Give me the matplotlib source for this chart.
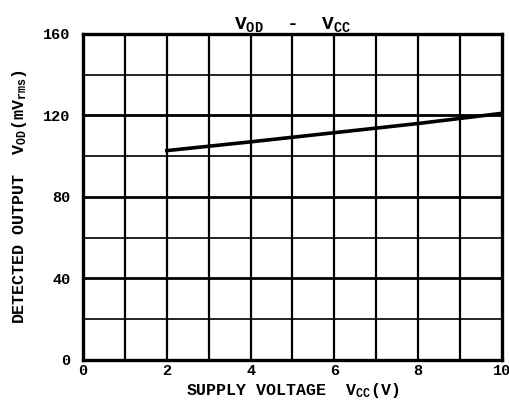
import numpy as np
import matplotlib
matplotlib.use('Agg')
import matplotlib.pyplot as plt

plt.rcParams['font.family'] = ['Liberation Mono', 'DejaVu Sans Mono']
plt.rcParams['font.weight'] = 'bold'
plt.rcParams['axes.labelweight'] = 'bold'
plt.rcParams['axes.titleweight'] = 'bold'
plt.rcParams['mathtext.fontset'] = 'custom'
plt.rcParams['mathtext.bf'] = 'Liberation Mono:bold'
plt.rcParams['mathtext.rm'] = 'Liberation Mono:bold'
plt.rcParams['mathtext.default'] = 'bf'

# curve
vcc = [2, 4, 6, 8, 10]
vod = [102.7, 107, 111.5, 116, 121]

xticks = [0, 2, 4, 6, 8, 10]
yticks = [0, 40, 80, 120, 160]

fig = plt.figure(figsize=(5.1, 4.08), dpi=100)
ax = fig.add_axes([0.163, 0.118, 0.821, 0.799])

# grid: every 1 V and every 20 mV
for x in range(1, 10):
    ax.axvline(x, color='black', lw=1.6, zorder=1)
for y in range(20, 160, 20):
    ax.axhline(y, color='black', lw=2.0 if y % 40 == 0 else 1.2, zorder=1)

ax.plot(vcc, vod, color='black', lw=2.6, zorder=3)

ax.set_xlim(0, 10)
ax.set_ylim(0, 160)
ax.set_xticks(xticks)
ax.set_yticks(yticks)
ax.tick_params(length=0, labelsize=11)
ax.tick_params(axis='y', pad=9)
ax.tick_params(axis='x', pad=3)
for s in ax.spines.values():
    s.set_linewidth(2.4)

ax.set_title('$V_{OD}$  -  $V_{CC}$', fontsize=14, pad=2)
ax.set_xlabel('SUPPLY VOLTAGE  $V_{CC}$($V$)', fontsize=12, labelpad=2)
ax.set_ylabel('DETECTED OUTPUT  $V_{OD}$($mV_{rms}$)', fontsize=12, labelpad=10)

fig.savefig('out.png', dpi=100)
